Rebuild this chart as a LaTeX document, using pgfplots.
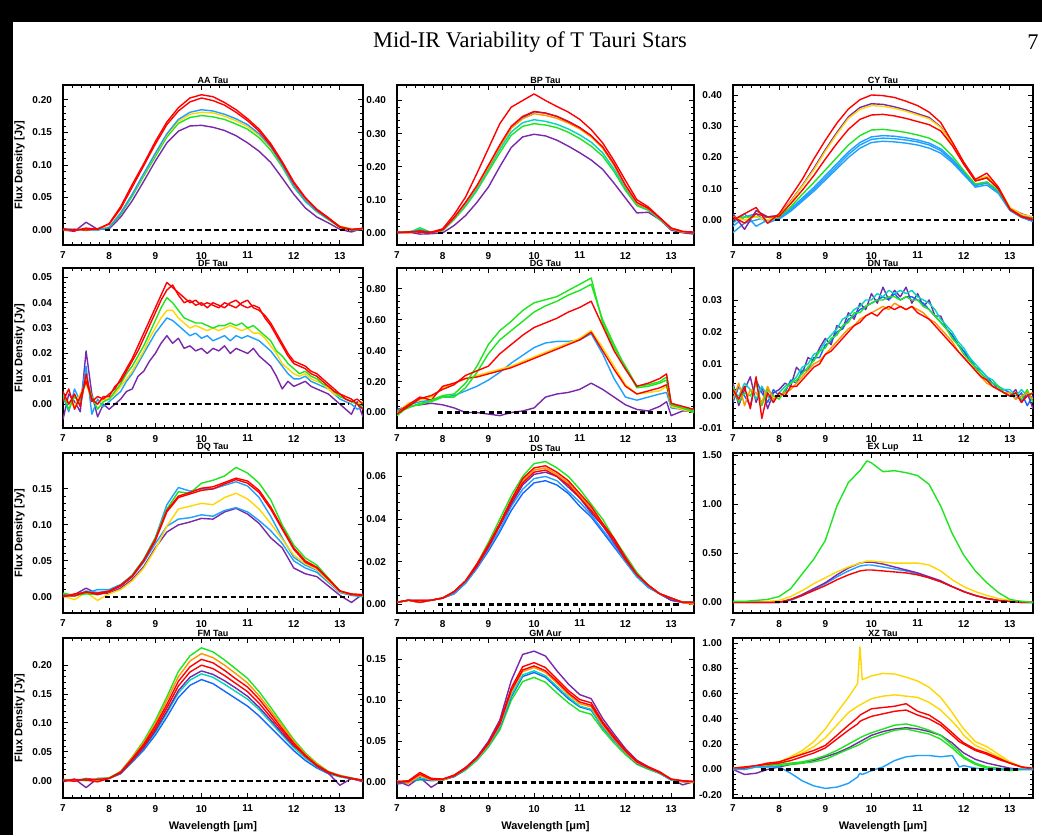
\documentclass[border=0pt]{standalone}
\usepackage{fontspec}
\setmainfont{Liberation Serif}
\newfontfamily\idl{Liberation Sans}
\usepackage{pgfplots}
\usepackage{pgfplotstable}
\pgfplotsset{compat=1.18}
\definecolor{cpu}{RGB}{120,40,170}
\definecolor{cbl}{RGB}{20,100,255}
\definecolor{ccy}{RGB}{30,160,255}
\definecolor{cte}{RGB}{0,215,190}
\definecolor{cgr}{RGB}{30,230,30}
\definecolor{cye}{RGB}{255,215,0}
\definecolor{cor}{RGB}{255,150,0}
\definecolor{cre}{RGB}{255,0,0}
\pgfplotsset{
  panel/.style={
    scale only axis, width=150pt, height=80pt,
    xmin=7, xmax=13.5, xtick={7,8,9,10,11,12,13},
    minor x tick num=4, minor y tick num=4,
    tick align=inside, xtick pos=both, ytick pos=both,
    xticklabel pos=lower, yticklabel pos=left,
    major tick length=2.6pt, minor tick length=1.3pt,
    axis line style={line width=0.8pt},
    every tick/.style={black, line width=0.45pt},
    tick label style={font=\idl\bfseries\fontsize{5}{6}\selectfont},
    yticklabel style={/pgf/number format/fixed, /pgf/number format/fixed zerofill, /pgf/number format/precision=2, xshift=-2pt},
    scaled y ticks=false,
    /pgf/number format/assume math mode=true,
    every axis title shift=0pt,
    title style={font=\idl\bfseries\fontsize{4.5}{5}\selectfont, at={(0.5,1)}, anchor=south, yshift=0pt, inner sep=0.6pt},
    label style={font=\idl\bfseries\fontsize{5.5}{6}\selectfont},
    ylabel style={yshift=-3pt},
    xlabel style={yshift=2pt},
    every axis plot/.append style={line width=0.7pt, line join=round},
    anchor=south west,
  },
  zl/.style={black, line width=1.1pt, dash pattern=on 2.6pt off 1.6pt},
}

\pgfplotstableread{
x pu bl gr ye r1 r2
7.00 0.000 0.002 0.001 0.000 0.002 0.000
7.25 -0.002 0.001 0.000 0.001 -0.001 0.001
7.50 0.012 0.000 0.002 -0.001 0.003 0.000
7.75 0.001 0.000 0.000 0.001 0.001 0.002
8.00 0.002 0.004 0.004 0.005 0.010 0.009
8.25 0.020 0.026 0.024 0.027 0.036 0.033
8.50 0.045 0.055 0.052 0.055 0.070 0.066
8.75 0.075 0.087 0.083 0.086 0.102 0.099
9.00 0.106 0.118 0.113 0.117 0.136 0.132
9.25 0.134 0.148 0.143 0.146 0.166 0.162
9.50 0.152 0.170 0.164 0.167 0.188 0.183
9.75 0.160 0.181 0.173 0.178 0.203 0.197
10.00 0.161 0.185 0.176 0.181 0.208 0.203
10.25 0.158 0.183 0.174 0.180 0.205 0.199
10.50 0.153 0.178 0.170 0.175 0.196 0.192
10.75 0.145 0.171 0.163 0.168 0.185 0.181
11.00 0.134 0.162 0.155 0.159 0.171 0.168
11.25 0.121 0.148 0.142 0.146 0.155 0.152
11.50 0.104 0.128 0.123 0.127 0.133 0.130
11.75 0.080 0.100 0.097 0.100 0.105 0.103
12.00 0.055 0.068 0.066 0.068 0.074 0.072
12.25 0.034 0.045 0.044 0.046 0.050 0.049
12.50 0.020 0.029 0.028 0.029 0.032 0.031
12.75 0.011 0.017 0.016 0.018 0.019 0.018
13.00 0.001 0.005 0.004 0.006 0.005 0.004
13.25 -0.003 0.001 0.000 0.002 0.001 0.000
13.50 0.003 0.002 0.001 0.001 0.002 0.003
}\AAtab

\pgfplotstableread{
x pu gr cy bl or r1 r2
7.00 0.000 0.002 0.001 0.000 0.001 0.002 0.000
7.25 0.002 0.000 0.003 0.001 0.000 0.001 0.003
7.50 -0.004 0.015 0.010 0.005 0.004 0.006 0.002
7.75 -0.003 0.001 0.000 0.002 0.001 0.000 0.002
8.00 0.000 0.006 0.007 0.008 0.008 0.009 0.012
8.25 0.022 0.040 0.042 0.045 0.044 0.046 0.055
8.50 0.052 0.080 0.084 0.090 0.089 0.092 0.108
8.75 0.092 0.128 0.133 0.140 0.139 0.143 0.180
9.00 0.138 0.185 0.192 0.200 0.198 0.204 0.255
9.25 0.200 0.242 0.252 0.262 0.260 0.266 0.330
9.50 0.258 0.295 0.305 0.318 0.316 0.322 0.380
9.75 0.290 0.322 0.333 0.348 0.345 0.352 0.400
10.00 0.298 0.330 0.342 0.366 0.360 0.367 0.420
10.25 0.293 0.326 0.337 0.362 0.355 0.362 0.400
10.50 0.280 0.318 0.328 0.352 0.346 0.352 0.382
10.75 0.262 0.304 0.314 0.337 0.332 0.336 0.365
11.00 0.242 0.285 0.296 0.318 0.314 0.318 0.343
11.25 0.220 0.262 0.274 0.292 0.290 0.294 0.312
11.50 0.192 0.232 0.242 0.258 0.256 0.260 0.272
11.75 0.150 0.185 0.192 0.205 0.204 0.208 0.218
12.00 0.105 0.128 0.134 0.140 0.140 0.144 0.158
12.25 0.060 0.082 0.086 0.088 0.088 0.092 0.100
12.50 0.062 0.068 0.070 0.073 0.072 0.074 0.078
12.75 0.040 0.040 0.042 0.044 0.044 0.045 0.046
13.00 0.008 0.012 0.012 0.013 0.012 0.014 0.014
13.25 0.000 0.002 0.003 0.003 0.002 0.004 0.004
13.50 -0.004 0.000 0.001 0.000 0.001 0.002 0.001
}\BPtab

\pgfplotstableread{
x bla blb cy gr pu ye r1 r2
7.00 -0.02 -0.04 -0.01 0.00 0.02 0.01 0.00 0.01
7.25 0.01 -0.01 0.02 0.01 -0.03 0.00 0.02 -0.01
7.50 0.02 0.00 -0.02 0.01 0.03 0.01 0.04 0.02
7.75 -0.01 0.01 0.00 0.00 0.01 0.00 -0.01 0.01
8.00 0.005 0.003 0.008 0.010 0.015 0.014 0.020 0.012
8.25 0.032 0.028 0.036 0.042 0.060 0.058 0.075 0.052
8.50 0.065 0.060 0.070 0.082 0.110 0.108 0.130 0.095
8.75 0.098 0.092 0.104 0.120 0.165 0.160 0.195 0.142
9.00 0.135 0.128 0.142 0.160 0.225 0.220 0.255 0.195
9.25 0.172 0.164 0.180 0.200 0.280 0.275 0.310 0.245
9.50 0.210 0.200 0.218 0.240 0.330 0.325 0.355 0.290
9.75 0.240 0.230 0.248 0.270 0.360 0.354 0.385 0.322
10.00 0.258 0.248 0.266 0.288 0.372 0.366 0.400 0.336
10.25 0.262 0.252 0.270 0.290 0.370 0.364 0.398 0.338
10.50 0.260 0.250 0.268 0.286 0.362 0.357 0.392 0.333
10.75 0.256 0.246 0.263 0.280 0.352 0.348 0.380 0.325
11.00 0.250 0.240 0.256 0.272 0.340 0.336 0.366 0.315
11.25 0.240 0.230 0.246 0.262 0.328 0.324 0.345 0.305
11.50 0.222 0.214 0.228 0.242 0.298 0.296 0.312 0.285
11.75 0.190 0.184 0.195 0.205 0.245 0.244 0.250 0.238
12.00 0.150 0.145 0.154 0.158 0.180 0.182 0.185 0.178
12.25 0.110 0.105 0.112 0.115 0.125 0.128 0.130 0.125
12.50 0.118 0.112 0.120 0.122 0.135 0.140 0.150 0.135
12.75 0.090 0.085 0.092 0.094 0.100 0.104 0.105 0.100
13.00 0.032 0.030 0.034 0.035 0.038 0.040 0.036 0.034
13.25 0.012 0.008 0.014 0.012 0.020 0.018 0.012 0.010
13.50 0.000 -0.005 0.004 0.002 0.008 0.010 0.002 0.000
}\CYtab

\pgfplotstableread{
x pu bl ye gr r1 r2
7.000 -0.006 0.003 0.002 0.004 0.005 0.001
7.125 0.004 -0.003 0.001 -0.002 0.000 0.006
7.250 0.001 0.006 -0.001 0.003 0.004 -0.002
7.375 -0.003 0.001 0.004 0.000 -0.001 0.003
7.500 0.021 0.015 0.008 0.010 0.012 0.009
7.625 0.004 -0.004 0.002 0.003 0.001 0.002
7.750 -0.005 0.002 0.000 -0.002 0.003 0.000
7.875 0.000 -0.001 0.002 0.001 0.002 0.003
8.000 -0.002 0.001 0.002 0.002 0.004 0.003
8.125 0.000 0.003 0.004 0.005 0.006 0.007
8.250 0.002 0.005 0.007 0.008 0.010 0.009
8.375 0.005 0.009 0.010 0.012 0.014 0.013
8.500 0.006 0.012 0.013 0.015 0.018 0.017
8.625 0.011 0.016 0.017 0.019 0.023 0.021
8.750 0.013 0.020 0.021 0.023 0.028 0.026
8.875 0.017 0.024 0.026 0.028 0.033 0.031
9.000 0.020 0.028 0.030 0.033 0.038 0.036
9.125 0.024 0.031 0.034 0.038 0.043 0.041
9.250 0.027 0.034 0.037 0.042 0.048 0.045
9.375 0.024 0.033 0.037 0.040 0.046 0.047
9.500 0.026 0.031 0.034 0.037 0.044 0.043
9.625 0.022 0.029 0.032 0.034 0.042 0.040
9.750 0.023 0.027 0.030 0.033 0.040 0.041
9.875 0.021 0.028 0.031 0.032 0.041 0.039
10.000 0.022 0.026 0.030 0.032 0.039 0.040
10.125 0.020 0.027 0.029 0.031 0.040 0.038
10.250 0.022 0.025 0.030 0.030 0.039 0.040
10.375 0.021 0.026 0.029 0.031 0.038 0.039
10.500 0.023 0.027 0.030 0.031 0.040 0.038
10.625 0.020 0.025 0.031 0.032 0.039 0.040
10.750 0.022 0.027 0.030 0.031 0.038 0.041
10.875 0.021 0.026 0.029 0.032 0.040 0.039
11.000 0.020 0.027 0.030 0.030 0.041 0.038
11.125 0.022 0.026 0.028 0.031 0.038 0.039
11.250 0.019 0.025 0.028 0.029 0.037 0.038
11.375 0.017 0.023 0.026 0.027 0.035 0.034
11.500 0.015 0.021 0.023 0.025 0.032 0.031
11.625 0.011 0.018 0.020 0.021 0.028 0.027
11.750 0.006 0.015 0.016 0.019 0.024 0.023
11.875 0.009 0.012 0.014 0.016 0.020 0.019
12.000 0.007 0.010 0.012 0.014 0.017 0.016
12.125 0.008 0.010 0.011 0.012 0.016 0.015
12.250 0.009 0.011 0.012 0.013 0.015 0.014
12.375 0.007 0.009 0.010 0.011 0.013 0.012
12.500 0.006 0.008 0.009 0.010 0.012 0.011
12.625 0.005 0.007 0.008 0.008 0.010 0.009
12.750 0.004 0.006 0.006 0.007 0.008 0.007
12.875 0.002 0.004 0.004 0.005 0.006 0.005
13.000 0.000 0.002 0.003 0.003 0.004 0.004
13.125 -0.002 0.001 0.002 0.002 0.003 0.002
13.250 -0.004 0.000 0.001 0.001 0.002 0.001
13.375 0.001 -0.002 0.000 0.000 0.000 0.002
13.500 -0.005 -0.001 0.001 -0.001 -0.002 0.000
}\DFtab

\pgfplotstableread{
x pu bl ye r2 r1 g2 g1
7.00 0.02 0.01 0.00 0.00 -0.01 0.00 -0.02
7.25 0.04 0.05 0.06 0.05 0.04 0.03 0.04
7.50 0.05 0.07 0.08 0.10 0.09 0.06 0.05
7.75 0.06 0.08 0.10 0.08 0.11 0.07 0.08
8.00 0.05 0.10 0.16 0.17 0.15 0.10 0.11
8.25 0.03 0.11 0.19 0.19 0.18 0.10 0.12
8.50 0.00 0.14 0.22 0.22 0.24 0.16 0.19
8.75 0.00 0.17 0.24 0.23 0.27 0.26 0.30
9.00 -0.01 0.21 0.26 0.25 0.30 0.38 0.44
9.25 -0.02 0.26 0.28 0.27 0.38 0.47 0.53
9.50 0.00 0.32 0.30 0.29 0.44 0.53 0.59
9.75 0.01 0.37 0.33 0.32 0.50 0.59 0.66
10.00 0.03 0.42 0.36 0.35 0.55 0.65 0.71
10.25 0.10 0.45 0.39 0.38 0.58 0.69 0.73
10.50 0.12 0.46 0.42 0.41 0.61 0.72 0.75
10.75 0.13 0.46 0.45 0.44 0.65 0.76 0.79
11.00 0.15 0.47 0.48 0.47 0.68 0.79 0.83
11.25 0.19 0.51 0.53 0.52 0.72 0.83 0.87
11.50 0.15 0.38 0.42 0.40 0.56 0.60 0.58
11.75 0.10 0.22 0.30 0.28 0.40 0.44 0.42
12.00 0.05 0.10 0.18 0.17 0.28 0.29 0.30
12.25 0.02 0.08 0.12 0.12 0.17 0.16 0.17
12.50 0.01 0.10 0.13 0.14 0.19 0.17 0.18
12.75 0.04 0.12 0.14 0.16 0.22 0.19 0.20
12.90 0.07 0.13 0.17 0.18 0.25 0.21 0.23
13.00 -0.02 0.03 0.04 0.05 0.06 0.05 0.06
13.25 0.01 0.02 0.02 0.03 0.04 0.03 0.03
13.50 0.01 0.02 0.00 0.01 0.02 0.00 0.01
}\DGtab

\pgfplotstableread{
x pu bl cy gr or r
7.000 0.004 -0.002 0.001 0.003 -0.001 0.002
7.125 -0.003 0.003 0.000 -0.002 0.004 -0.001
7.250 0.002 0.000 0.004 0.001 -0.003 0.003
7.375 0.006 -0.003 0.002 0.000 0.002 -0.004
7.500 -0.002 0.005 -0.001 0.004 0.001 0.006
7.625 0.003 0.001 0.003 -0.003 -0.002 -0.007
7.750 -0.004 -0.002 0.000 0.002 0.003 0.001
7.875 0.001 0.002 -0.002 0.000 -0.001 -0.002
8.000 0.002 0.000 0.001 -0.001 0.000 0.001
8.125 0.004 0.001 0.003 0.002 0.001 0.000
8.250 0.003 0.005 0.004 0.004 0.002 0.003
8.375 0.009 0.004 0.006 0.005 0.004 0.003
8.500 0.007 0.008 0.009 0.007 0.006 0.005
8.625 0.012 0.008 0.010 0.009 0.008 0.007
8.750 0.011 0.012 0.013 0.011 0.010 0.009
8.875 0.015 0.012 0.014 0.014 0.011 0.010
9.000 0.018 0.016 0.017 0.015 0.013 0.013
9.125 0.016 0.017 0.019 0.018 0.015 0.014
9.250 0.022 0.020 0.021 0.019 0.017 0.016
9.375 0.021 0.021 0.024 0.022 0.019 0.018
9.500 0.026 0.024 0.025 0.023 0.021 0.020
9.625 0.024 0.025 0.027 0.026 0.022 0.022
9.750 0.029 0.027 0.028 0.026 0.024 0.023
9.875 0.027 0.028 0.030 0.028 0.025 0.025
10.000 0.032 0.029 0.030 0.029 0.026 0.026
10.125 0.029 0.030 0.032 0.030 0.027 0.025
10.250 0.034 0.031 0.031 0.030 0.028 0.027
10.375 0.030 0.030 0.033 0.031 0.027 0.028
10.500 0.033 0.032 0.032 0.031 0.029 0.027
10.625 0.031 0.030 0.033 0.030 0.028 0.028
10.750 0.034 0.031 0.032 0.031 0.027 0.027
10.875 0.029 0.031 0.033 0.030 0.028 0.028
11.000 0.032 0.030 0.031 0.030 0.027 0.026
11.125 0.028 0.029 0.030 0.028 0.026 0.025
11.250 0.030 0.027 0.029 0.027 0.024 0.024
11.375 0.025 0.025 0.027 0.025 0.023 0.022
11.500 0.025 0.023 0.024 0.023 0.021 0.020
11.625 0.021 0.021 0.022 0.021 0.019 0.018
11.750 0.019 0.019 0.020 0.018 0.017 0.016
11.875 0.016 0.016 0.017 0.016 0.014 0.014
12.000 0.014 0.014 0.015 0.013 0.012 0.012
12.125 0.011 0.012 0.012 0.011 0.010 0.010
12.250 0.009 0.009 0.010 0.009 0.008 0.008
12.375 0.007 0.008 0.008 0.007 0.006 0.006
12.500 0.005 0.006 0.006 0.005 0.004 0.005
12.625 0.004 0.004 0.005 0.004 0.003 0.003
12.750 0.003 0.002 0.003 0.003 0.002 0.002
12.875 0.001 0.002 0.002 0.001 0.001 0.001
13.000 0.000 0.001 0.002 0.000 0.001 0.000
13.125 0.002 -0.001 0.000 0.001 -0.001 0.001
13.250 -0.002 0.001 0.002 -0.001 0.000 -0.002
13.375 0.001 -0.003 0.000 0.002 0.001 0.000
13.500 -0.004 0.000 0.001 -0.002 -0.001 0.001
}\DNtab

\pgfplotstableread{
x pu bl ye cy r1 r2 gr
7.00 0.000 0.002 0.001 0.003 0.002 0.000 0.005
7.25 0.003 0.001 -0.004 0.002 0.001 0.004 0.002
7.50 0.012 0.008 0.006 0.005 0.007 0.006 0.004
7.75 0.004 0.006 -0.005 0.010 0.003 0.005 0.003
8.00 0.005 0.008 0.004 0.010 0.007 0.008 0.008
8.25 0.012 0.015 0.010 0.017 0.015 0.016 0.016
8.50 0.024 0.028 0.022 0.030 0.028 0.029 0.030
8.75 0.042 0.048 0.040 0.052 0.050 0.051 0.052
9.00 0.068 0.074 0.066 0.082 0.078 0.080 0.082
9.25 0.090 0.098 0.098 0.128 0.118 0.120 0.122
9.50 0.100 0.108 0.122 0.152 0.138 0.140 0.146
9.75 0.104 0.110 0.126 0.147 0.143 0.145 0.144
10.00 0.109 0.114 0.130 0.150 0.148 0.151 0.158
10.25 0.108 0.112 0.128 0.150 0.150 0.153 0.162
10.50 0.118 0.120 0.138 0.155 0.157 0.159 0.168
10.75 0.123 0.124 0.144 0.160 0.163 0.165 0.180
11.00 0.115 0.118 0.136 0.154 0.158 0.161 0.172
11.25 0.102 0.106 0.122 0.138 0.145 0.148 0.158
11.50 0.082 0.092 0.102 0.112 0.122 0.125 0.135
11.75 0.068 0.074 0.080 0.082 0.094 0.096 0.100
12.00 0.040 0.050 0.058 0.055 0.066 0.068 0.072
12.25 0.032 0.040 0.046 0.044 0.048 0.050 0.054
12.50 0.028 0.034 0.038 0.037 0.040 0.041 0.044
12.75 0.015 0.020 0.022 0.022 0.024 0.025 0.026
13.00 0.002 0.006 0.007 0.006 0.008 0.008 0.008
13.25 -0.008 0.002 0.003 0.002 0.003 0.004 0.003
13.50 0.004 0.000 0.002 0.001 0.002 0.003 0.001
}\DQtab

\pgfplotstableread{
x bl cy pu r1 or gr r2
7.00 0.001 0.001 0.001 0.001 0.001 0.001 0.001
7.25 0.002 0.002 0.002 0.002 0.002 0.002 0.002
7.50 0.001 0.001 0.002 0.001 0.001 0.001 0.002
7.75 0.002 0.002 0.002 0.002 0.002 0.002 0.002
8.00 0.003 0.003 0.003 0.003 0.003 0.003 0.003
8.25 0.005 0.005 0.006 0.006 0.006 0.006 0.006
8.50 0.010 0.010 0.011 0.011 0.011 0.011 0.011
8.75 0.017 0.017 0.018 0.018 0.019 0.019 0.019
9.00 0.025 0.026 0.027 0.027 0.028 0.029 0.028
9.25 0.034 0.035 0.037 0.037 0.038 0.040 0.038
9.50 0.044 0.046 0.047 0.048 0.049 0.051 0.049
9.75 0.052 0.054 0.056 0.057 0.058 0.060 0.059
10.00 0.057 0.059 0.061 0.062 0.063 0.066 0.064
10.25 0.058 0.060 0.062 0.063 0.064 0.067 0.065
10.50 0.056 0.058 0.060 0.060 0.061 0.064 0.062
10.75 0.052 0.053 0.055 0.056 0.057 0.060 0.058
11.00 0.046 0.048 0.050 0.050 0.051 0.054 0.052
11.25 0.041 0.042 0.043 0.044 0.045 0.047 0.046
11.50 0.034 0.035 0.037 0.037 0.038 0.040 0.038
11.75 0.027 0.028 0.029 0.030 0.030 0.031 0.031
12.00 0.020 0.020 0.021 0.021 0.022 0.023 0.022
12.25 0.013 0.013 0.014 0.014 0.014 0.015 0.014
12.50 0.008 0.008 0.009 0.009 0.009 0.009 0.009
12.75 0.005 0.005 0.005 0.005 0.005 0.005 0.005
13.00 0.002 0.002 0.002 0.003 0.003 0.003 0.003
13.25 0.001 0.001 0.001 0.001 0.001 0.001 0.001
13.50 0.001 0.000 0.001 0.001 0.000 0.001 0.001
}\DStab

\pgfplotstableread{
x bl pu ye r gr
7.00 0.00 0.00 0.00 0.00 0.01
7.25 0.00 0.00 0.00 0.00 0.01
7.50 0.00 0.00 0.00 0.00 0.02
7.75 0.00 0.00 0.01 0.00 0.03
8.00 0.00 0.00 0.02 0.00 0.06
8.25 0.02 0.03 0.06 0.03 0.14
8.50 0.07 0.08 0.12 0.07 0.29
8.75 0.13 0.14 0.19 0.12 0.44
9.00 0.19 0.20 0.25 0.17 0.63
9.25 0.26 0.28 0.31 0.23 0.98
9.50 0.32 0.35 0.36 0.28 1.22
9.75 0.37 0.40 0.40 0.32 1.34
9.90 0.38 0.41 0.42 0.33 1.44
10.00 0.38 0.41 0.42 0.33 1.42
10.25 0.36 0.39 0.41 0.32 1.33
10.50 0.34 0.36 0.40 0.31 1.34
10.75 0.32 0.33 0.40 0.30 1.32
11.00 0.29 0.30 0.40 0.28 1.29
11.25 0.25 0.26 0.38 0.25 1.20
11.50 0.21 0.22 0.32 0.21 0.98
11.75 0.16 0.16 0.23 0.16 0.70
12.00 0.11 0.11 0.16 0.11 0.48
12.25 0.07 0.07 0.11 0.07 0.32
12.50 0.04 0.04 0.07 0.04 0.20
12.75 0.02 0.02 0.04 0.02 0.10
13.00 0.01 0.01 0.02 0.01 0.03
13.25 0.00 0.00 0.01 0.00 0.01
13.50 0.00 0.00 0.00 0.00 0.00
}\EXtab

\pgfplotstableread{
x bl cy pu r1 r2 or gr
7.00 0.000 0.002 -0.002 0.001 0.000 0.001 0.002
7.25 0.001 0.000 0.003 -0.001 0.002 0.000 0.001
7.50 0.002 0.004 -0.012 0.003 0.001 0.002 0.000
7.75 0.000 0.001 0.004 0.002 -0.002 0.001 0.003
8.00 0.004 0.004 0.004 0.004 0.004 0.004 0.005
8.25 0.012 0.013 0.013 0.014 0.015 0.015 0.016
8.50 0.032 0.033 0.034 0.036 0.038 0.040 0.041
8.75 0.053 0.056 0.057 0.060 0.063 0.066 0.069
9.00 0.079 0.083 0.086 0.090 0.095 0.099 0.104
9.25 0.110 0.117 0.120 0.126 0.132 0.139 0.145
9.50 0.144 0.152 0.156 0.164 0.172 0.180 0.189
9.75 0.165 0.174 0.179 0.188 0.197 0.207 0.216
10.00 0.175 0.185 0.190 0.200 0.210 0.220 0.230
10.25 0.168 0.179 0.184 0.194 0.204 0.213 0.223
10.50 0.155 0.167 0.173 0.182 0.191 0.200 0.209
10.75 0.142 0.154 0.160 0.168 0.176 0.185 0.193
11.00 0.129 0.141 0.146 0.154 0.162 0.169 0.177
11.25 0.112 0.123 0.127 0.134 0.141 0.147 0.154
11.50 0.092 0.101 0.105 0.110 0.116 0.121 0.127
11.75 0.072 0.079 0.082 0.086 0.090 0.095 0.099
12.00 0.052 0.057 0.060 0.062 0.065 0.068 0.071
12.25 0.035 0.039 0.045 0.042 0.044 0.046 0.048
12.50 0.022 0.024 0.025 0.026 0.027 0.029 0.030
12.75 0.012 0.013 0.013 0.014 0.015 0.015 0.016
13.00 0.007 0.007 -0.008 0.008 0.008 0.009 0.009
13.25 0.003 0.004 0.004 0.004 0.004 0.004 0.005
13.50 0.000 0.000 -0.002 0.000 0.001 0.000 0.000
}\FMtab

\pgfplotstableread{
x gr bl cy or r1 r2 pu
7.00 0.001 -0.002 0.000 0.002 0.001 0.000 0.002
7.25 0.002 0.000 0.001 -0.001 0.002 0.001 -0.004
7.50 0.003 0.004 0.005 0.008 0.012 0.010 0.006
7.75 0.003 0.002 0.004 0.003 0.005 0.004 -0.006
8.00 0.003 0.003 0.003 0.003 0.004 0.004 0.003
8.25 0.007 0.007 0.008 0.008 0.008 0.009 0.008
8.50 0.015 0.016 0.016 0.017 0.017 0.018 0.018
8.75 0.027 0.028 0.028 0.029 0.030 0.030 0.031
9.00 0.043 0.045 0.045 0.046 0.047 0.048 0.050
9.25 0.064 0.067 0.068 0.070 0.071 0.073 0.076
9.50 0.100 0.104 0.106 0.110 0.112 0.115 0.124
9.75 0.123 0.129 0.131 0.135 0.137 0.141 0.156
10.00 0.128 0.134 0.136 0.140 0.142 0.146 0.160
10.25 0.122 0.128 0.130 0.134 0.136 0.140 0.154
10.50 0.109 0.115 0.117 0.121 0.123 0.126 0.136
10.75 0.097 0.102 0.104 0.107 0.109 0.112 0.120
11.00 0.087 0.092 0.093 0.096 0.098 0.101 0.107
11.25 0.083 0.088 0.089 0.092 0.094 0.097 0.102
11.50 0.064 0.067 0.068 0.070 0.072 0.074 0.078
11.75 0.048 0.051 0.052 0.053 0.054 0.056 0.059
12.00 0.034 0.036 0.036 0.037 0.038 0.039 0.041
12.25 0.022 0.023 0.024 0.024 0.025 0.026 0.027
12.50 0.016 0.017 0.017 0.018 0.018 0.019 0.019
12.75 0.011 0.011 0.011 0.012 0.012 0.013 0.012
13.00 0.003 0.003 0.003 0.004 0.004 0.004 0.004
13.25 0.001 0.001 0.002 0.001 0.002 0.002 -0.003
13.50 0.000 0.000 0.001 0.000 0.001 0.001 0.001
}\GMtab

\pgfplotstableread{
x bl pu g2 g1 r2 r1 y2 y1
7.00 0.00 0.00 0.00 0.01 0.00 0.01 0.01 0.00
7.25 0.00 -0.04 0.01 0.00 0.01 0.02 0.02 0.01
7.50 0.02 -0.03 0.02 0.02 0.03 0.03 0.03 0.02
7.75 0.02 0.00 0.02 0.03 0.04 0.05 0.04 0.04
8.00 0.02 0.02 0.03 0.04 0.05 0.06 0.06 0.06
8.25 -0.03 0.04 0.04 0.05 0.07 0.09 0.09 0.10
8.50 -0.09 0.05 0.05 0.06 0.10 0.12 0.13 0.15
8.75 -0.13 0.07 0.06 0.08 0.13 0.15 0.18 0.22
9.00 -0.15 0.10 0.08 0.11 0.17 0.19 0.25 0.32
9.25 -0.14 0.13 0.12 0.15 0.24 0.27 0.35 0.45
9.50 -0.11 0.17 0.16 0.20 0.31 0.35 0.45 0.57
9.70 -0.06 0.21 0.19 0.24 0.36 0.41 0.50 0.68
9.75 -0.03 0.22 0.20 0.25 0.38 0.43 0.51 0.97
9.80 -0.04 0.23 0.21 0.26 0.39 0.44 0.52 0.71
10.00 -0.01 0.27 0.25 0.29 0.42 0.48 0.56 0.74
10.25 0.02 0.30 0.28 0.32 0.44 0.49 0.58 0.76
10.50 0.07 0.32 0.31 0.35 0.46 0.50 0.59 0.755
10.75 0.10 0.33 0.32 0.36 0.47 0.52 0.58 0.73
11.00 0.11 0.32 0.30 0.34 0.43 0.46 0.57 0.70
11.25 0.11 0.30 0.28 0.31 0.40 0.43 0.53 0.65
11.50 0.10 0.27 0.24 0.27 0.35 0.37 0.47 0.57
11.75 0.11 0.21 0.17 0.19 0.27 0.29 0.38 0.45
11.90 0.02 0.16 0.12 0.14 0.22 0.24 0.32 0.37
12.00 0.03 0.13 0.09 0.10 0.20 0.21 0.27 0.32
12.25 0.01 0.08 0.04 0.05 0.15 0.16 0.19 0.22
12.50 0.00 0.05 0.01 0.02 0.12 0.13 0.15 0.18
12.75 0.00 0.03 0.00 0.01 0.08 0.09 0.10 0.12
13.00 0.00 0.01 -0.01 0.00 0.05 0.05 0.05 0.06
13.25 0.00 0.00 0.00 0.00 0.02 0.02 0.02 0.02
13.50 0.00 0.00 0.01 0.00 0.00 0.01 0.00 0.00
}\XZtab

\begin{document}
\begin{tikzpicture}
\useasboundingbox (0,0) rectangle (521pt,417.5pt);
\fill[white] (0,0) rectangle (521pt,417.5pt);
\fill[black] (0,406.5pt) rectangle (521pt,417.5pt);
\fill[black] (0,0) rectangle (6.5pt,417.5pt);
\node[font=\fontsize{11.2}{13}\selectfont] at (265pt,396.5pt) {Mid-IR Variability of T Tauri Stars};
\node[font=\fontsize{11.2}{13}\selectfont] at (516.5pt,396.5pt) {7};

% Row 1
\begin{axis}[panel, at={(31.5pt,295pt)}, ymin=-0.023, ymax=0.223, ytick={0,0.05,0.10,0.15,0.20}, title={AA Tau}, ylabel={Flux Density [Jy]}]
\addplot[cpu] table[y=pu]{\AAtab};
\addplot[cgr] table[y=gr]{\AAtab};
\addplot[cye] table[y=ye]{\AAtab};
\addplot[ccy] table[y=bl]{\AAtab};
\addplot[cre] table[y=r2]{\AAtab};
\addplot[cre] table[y=r1]{\AAtab};
\addplot[zl] coordinates {(7.9,0) (13.2,0)};
\end{axis}

\begin{axis}[panel, width=148.5pt, at={(198.5pt,295pt)}, ymin=-0.037, ymax=0.447, ytick={0,0.1,0.2,0.3,0.4}, title={BP Tau}]
\addplot[cpu] table[y=pu]{\BPtab};
\addplot[cgr] table[y=gr]{\BPtab};
\addplot[cte] table[y=cy]{\BPtab};
\addplot[cbl] table[y=bl]{\BPtab};
\addplot[cor] table[y=or]{\BPtab};
\addplot[cre] table[y=r1]{\BPtab};
\addplot[cre] table[y=r2]{\BPtab};
\addplot[zl] coordinates {(7.9,0) (13.2,0)};
\end{axis}

\begin{axis}[panel, at={(366.5pt,295pt)}, ymin=-0.08, ymax=0.432, ytick={0,0.1,0.2,0.3,0.4}, title={CY Tau}]
\addplot[ccy] table[y=bla]{\CYtab};
\addplot[ccy] table[y=blb]{\CYtab};
\addplot[ccy] table[y=cy]{\CYtab};
\addplot[cgr] table[y=gr]{\CYtab};
\addplot[cpu] table[y=pu]{\CYtab};
\addplot[cye] table[y=ye]{\CYtab};
\addplot[cre] table[y=r2]{\CYtab};
\addplot[cre] table[y=r1]{\CYtab};
\addplot[zl] coordinates {(7.9,0) (13.2,0)};
\end{axis}

% Row 2
\begin{axis}[panel, at={(31.5pt,203.5pt)}, ymin=-0.0094, ymax=0.0537, ytick={0,0.01,0.02,0.03,0.04,0.05}, title={DF Tau}, ylabel={Flux Density [Jy]}]
\addplot[cpu] table[y=pu]{\DFtab};
\addplot[ccy] table[y=bl]{\DFtab};
\addplot[cye] table[y=ye]{\DFtab};
\addplot[cgr] table[y=gr]{\DFtab};
\addplot[cre] table[y=r2]{\DFtab};
\addplot[cre] table[y=r1]{\DFtab};
\addplot[zl] coordinates {(7.9,0) (13.2,0)};
\end{axis}

\begin{axis}[panel, width=148.5pt, at={(198.5pt,203.5pt)}, ymin=-0.1, ymax=0.935, ytick={0,0.2,0.4,0.6,0.8}, title={DG Tau}]
\addplot[cpu] table[y=pu]{\DGtab};
\addplot[ccy] table[y=bl]{\DGtab};
\addplot[cye] table[y=ye]{\DGtab};
\addplot[cre] table[y=r2]{\DGtab};
\addplot[cgr] table[y=g2]{\DGtab};
\addplot[cgr] table[y=g1]{\DGtab};
\addplot[cre] table[y=r1]{\DGtab};
\addplot[zl] coordinates {(7.9,0) (12.9,0)};
\end{axis}

\begin{axis}[panel, at={(366.5pt,203.5pt)}, ymin=-0.01, ymax=0.04, ytick={-0.01,0,0.01,0.02,0.03}, title={DN Tau}]
\addplot[cpu] table[y=pu]{\DNtab};
\addplot[cbl] table[y=bl]{\DNtab};
\addplot[cte] table[y=cy]{\DNtab};
\addplot[cgr] table[y=gr]{\DNtab};
\addplot[cor] table[y=or]{\DNtab};
\addplot[cre] table[y=r]{\DNtab};
\addplot[zl] coordinates {(7.9,0) (13.2,0)};
\end{axis}

% Row 3
\begin{axis}[panel, at={(31.5pt,111pt)}, ymin=-0.0226, ymax=0.2, ytick={0,0.05,0.10,0.15}, title={DQ Tau}, ylabel={Flux Density [Jy]}]
\addplot[cpu] table[y=pu]{\DQtab};
\addplot[ccy] table[y=bl]{\DQtab};
\addplot[ccy] table[y=cy]{\DQtab};
\addplot[cye] table[y=ye]{\DQtab};
\addplot[cgr] table[y=gr]{\DQtab};
\addplot[cre] table[y=r2]{\DQtab};
\addplot[cre] table[y=r1]{\DQtab};
\addplot[zl] coordinates {(7.9,0) (13.2,0)};
\end{axis}

\begin{axis}[panel, width=148.5pt, at={(198.5pt,111pt)}, ymin=-0.004, ymax=0.071, ytick={0,0.02,0.04,0.06}, title={DS Tau}]
\addplot[cbl] table[y=bl]{\DStab};
\addplot[ccy] table[y=cy]{\DStab};
\addplot[cpu] table[y=pu]{\DStab};
\addplot[cgr] table[y=gr]{\DStab};
\addplot[cor] table[y=or]{\DStab};
\addplot[cre] table[y=r1]{\DStab};
\addplot[cre] table[y=r2]{\DStab};
\addplot[zl] coordinates {(7.9,0) (13.2,0)};
\end{axis}

\begin{axis}[panel, at={(366.5pt,111pt)}, ymin=-0.108, ymax=1.52, ytick={0,0.5,1.0,1.5}, title={EX Lup}]
\addplot[ccy] table[y=bl]{\EXtab};
\addplot[cpu] table[y=pu]{\EXtab};
\addplot[cye] table[y=ye]{\EXtab};
\addplot[cre] table[y=r]{\EXtab};
\addplot[cgr] table[y=gr]{\EXtab};
\addplot[zl] coordinates {(7.9,0) (13.2,0)};
\end{axis}

% Row 4
\begin{axis}[panel, at={(31.5pt,18.5pt)}, ymin=-0.03, ymax=0.247, ytick={0,0.05,0.10,0.15,0.20}, title={FM Tau}, ylabel={Flux Density [Jy]}, xlabel={Wavelength [μm]}]
\addplot[cbl] table[y=bl]{\FMtab};
\addplot[cte] table[y=cy]{\FMtab};
\addplot[cpu] table[y=pu]{\FMtab};
\addplot[cgr] table[y=gr]{\FMtab};
\addplot[cor] table[y=or]{\FMtab};
\addplot[cre] table[y=r2]{\FMtab};
\addplot[cre] table[y=r1]{\FMtab};
\addplot[zl] coordinates {(7.9,0) (13.2,0)};
\end{axis}

\begin{axis}[panel, width=148.5pt, at={(198.5pt,18.5pt)}, ymin=-0.019, ymax=0.176, ytick={0,0.05,0.10,0.15}, title={GM Aur}, xlabel={Wavelength [μm]}]
\addplot[cpu] table[y=pu]{\GMtab};
\addplot[cgr] table[y=gr]{\GMtab};
\addplot[cbl] table[y=bl]{\GMtab};
\addplot[cte] table[y=cy]{\GMtab};
\addplot[cor] table[y=or]{\GMtab};
\addplot[cre] table[y=r1]{\GMtab};
\addplot[cre] table[y=r2]{\GMtab};
\addplot[zl] coordinates {(7.9,0) (13.2,0)};
\end{axis}

\begin{axis}[panel, at={(366.5pt,18.5pt)}, ymin=-0.226, ymax=1.04, ytick={-0.2,0,0.2,0.4,0.6,0.8,1.0}, title={XZ Tau}, xlabel={Wavelength [μm]}]
\addplot[cpu] table[y=pu]{\XZtab};
\addplot[cgr] table[y=g2]{\XZtab};
\addplot[cgr] table[y=g1]{\XZtab};
\addplot[cye] table[y=y2]{\XZtab};
\addplot[cye] table[y=y1]{\XZtab};
\addplot[cre] table[y=r2]{\XZtab};
\addplot[cre] table[y=r1]{\XZtab};
\addplot[ccy] table[y=bl]{\XZtab};
\addplot[zl] coordinates {(7.6,0) (13.2,0)};
\end{axis}
\end{tikzpicture}
\end{document}
